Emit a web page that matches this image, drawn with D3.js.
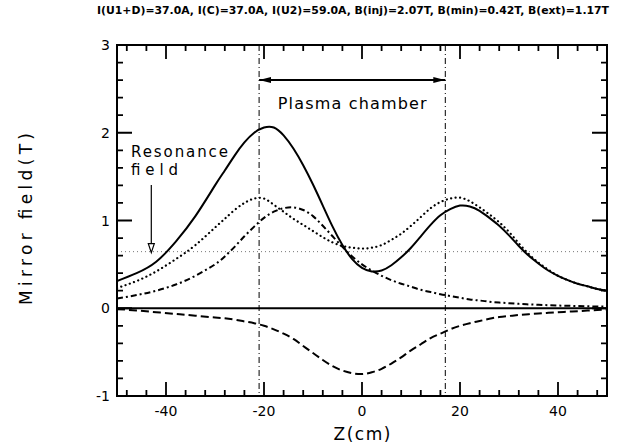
<!DOCTYPE html>
<html>
<head>
<meta charset="utf-8">
<script src="https://cdn.jsdelivr.net/npm/d3@7"></script>
<style>
  body { margin: 0; background: #fff; }
  text { font-family: "DejaVu Sans", "Liberation Sans", Arial, sans-serif; fill: #000; }
</style>
</head>
<body>
<script>
// z positions (cm)
var zPos = [-50, -46, -42, -38, -34, -30, -28, -26, -24, -22, -20, -18, -16, -14, -12, -10, -8, -6, -4, -2,
  0, 2, 4, 6, 8, 10, 12, 14, 16, 18, 20, 22, 24, 26, 28, 30, 32, 34, 36, 38, 40, 42, 44, 46, 48, 50];

// total field (solid)
var totalField = [0.31, 0.40, 0.53, 0.76, 1.05, 1.40, 1.57, 1.74, 1.89, 2.00, 2.06, 2.06, 1.97, 1.82, 1.63, 1.41, 1.17, 0.93, 0.72, 0.56,
  0.46, 0.42, 0.43, 0.49, 0.58, 0.69, 0.82, 0.95, 1.06, 1.13, 1.17, 1.16, 1.11, 1.03, 0.94, 0.83, 0.71, 0.60, 0.51, 0.43, 0.37, 0.32, 0.28, 0.25, 0.22, 0.20];

// dotted curve
var dottedField = [0.23, 0.31, 0.42, 0.56, 0.72, 0.92, 1.02, 1.12, 1.20, 1.25, 1.25, 1.18, 1.10, 1.02, 0.95, 0.88, 0.81, 0.75, 0.71, 0.69,
  0.68, 0.69, 0.72, 0.78, 0.85, 0.94, 1.04, 1.14, 1.21, 1.25, 1.26, 1.22, 1.15, 1.07, 0.98, 0.87, 0.74, 0.62, 0.52, 0.44, 0.37, 0.32, 0.28, 0.25, 0.22, 0.20];

// dash-dot curve
var dashDotField = [0.11, 0.15, 0.20, 0.27, 0.37, 0.50, 0.59, 0.70, 0.82, 0.93, 1.03, 1.10, 1.14, 1.15, 1.12, 1.05, 0.94, 0.82, 0.70, 0.59,
  0.50, 0.43, 0.37, 0.32, 0.28, 0.245, 0.21, 0.185, 0.16, 0.14, 0.12, 0.10, 0.088, 0.075, 0.065, 0.057, 0.05, 0.044, 0.039, 0.035, 0.031, 0.028, 0.025, 0.022, 0.02, 0.018];

// negative dashed curve
var centerField = [-0.01, -0.025, -0.045, -0.065, -0.085, -0.105, -0.115, -0.13, -0.15, -0.17, -0.20, -0.24, -0.29, -0.35, -0.43, -0.51, -0.59, -0.66, -0.71, -0.74,
  -0.75, -0.73, -0.69, -0.63, -0.56, -0.48, -0.41, -0.34, -0.29, -0.24, -0.20, -0.17, -0.145, -0.12, -0.10, -0.088, -0.077, -0.068, -0.06, -0.052, -0.045, -0.039, -0.033, -0.027, -0.021, -0.015];

var chamberEdges = [-21, 17];
var resonanceB = 0.645;
var resonanceZ = -43;

var xMajor = [-40, -20, 0, 20, 40];
var xMinor = d3.range(-48, 50, 4);
var yMajor = [-1, 0, 1, 2, 3];
var yMinor = d3.range(-0.8, 3, 0.2);

var titleText = "I(U1+D)=37.0A, I(C)=37.0A, I(U2)=59.0A, B(inj)=2.07T, B(min)=0.42T, B(ext)=1.17T";

var svgWidth = 617;
var svgHeight = 447;
var margin = { top: 45, bottom: 51, left: 117, right: 10 };
var w = svgWidth - margin.left - margin.right;
var h = svgHeight - margin.top - margin.bottom;

var svg = d3.select("body").append("svg")
  .attr("width", svgWidth)
  .attr("height", svgHeight);

var defs = svg.append("defs");
defs.append("clipPath").attr("id", "plotclip")
  .append("rect").attr("width", w).attr("height", h);
["arrowEnd", "arrowStart"].forEach(function (id, i) {
  defs.append("marker")
    .attr("id", id)
    .attr("viewBox", "0 -4 12 8")
    .attr("refX", i == 0 ? 12 : 0)
    .attr("refY", 0)
    .attr("markerWidth", 12)
    .attr("markerHeight", 8)
    .attr("markerUnits", "userSpaceOnUse")
    .attr("orient", "auto")
    .append("path")
    .attr("d", i == 0 ? "M0,-3L12,0L0,3Z" : "M12,-3L0,0L12,3Z")
    .attr("fill", "#000");
});

var g = svg.append("g").attr("transform", "translate(" + margin.left + "," + margin.top + ")");

var x = d3.scaleLinear().domain([-50, 50]).range([0, w]);
var y = d3.scaleLinear().domain([-1, 3]).range([h, 0]);

// tick labels
g.selectAll(".xlab").data(xMajor).enter().append("text")
  .attr("x", function (d) { return x(d); })
  .attr("y", h + 20)
  .attr("text-anchor", "middle")
  .style("font-size", "14px")
  .text(function (d) { return d; });
g.selectAll(".ylab").data(yMajor).enter().append("text")
  .attr("x", -7)
  .attr("y", function (d) { return y(d) + 5; })
  .attr("text-anchor", "end")
  .style("font-size", "14px")
  .text(function (d) { return d; });

// chamber edges
g.selectAll(".edge").data(chamberEdges).enter().append("line")
  .attr("x1", function (d) { return x(d); })
  .attr("x2", function (d) { return x(d); })
  .attr("y1", 0).attr("y2", h)
  .attr("stroke", "#000").attr("stroke-width", 1)
  .attr("stroke-dasharray", "6,3,1,3");

// resonance level
g.append("line")
  .attr("x1", 0).attr("x2", w)
  .attr("y1", y(resonanceB)).attr("y2", y(resonanceB))
  .attr("stroke", "#777").attr("stroke-width", 1)
  .attr("stroke-dasharray", "1,3");

// zero line
g.append("line")
  .attr("x1", 0).attr("x2", w)
  .attr("y1", y(0)).attr("y2", y(0))
  .attr("stroke", "#000").attr("stroke-width", 2);

var series = [
  { values: centerField, dash: "8,4" },
  { values: dashDotField, dash: "6,3,2,3" },
  { values: dottedField, dash: "0.1,4.4", cap: "round" },
  { values: totalField, dash: null }
];

var line = d3.line()
  .x(function (d) { return x(d[0]); })
  .y(function (d) { return y(d[1]); })
  .curve(d3.curveNatural);

var curves = g.append("g").attr("clip-path", "url(#plotclip)");
series.forEach(function (s) {
  curves.append("path")
    .datum(zPos.map(function (z, i) { return [z, s.values[i]]; }))
    .attr("d", line)
    .attr("fill", "none")
    .attr("stroke", "#000")
    .attr("stroke-width", s.cap ? 2.2 : 2)
    .attr("stroke-linecap", s.cap || "butt")
    .attr("stroke-dasharray", s.dash);
});

// frame
g.append("rect")
  .attr("width", w).attr("height", h)
  .attr("fill", "none").attr("stroke", "#000").attr("stroke-width", 2);

// inward ticks on all four sides
var tickPath = d3.path();
function xTicks(values, len) {
  values.forEach(function (d) {
    tickPath.moveTo(x(d), h); tickPath.lineTo(x(d), h - len);
    tickPath.moveTo(x(d), 0); tickPath.lineTo(x(d), len);
  });
}
function yTicks(values, len) {
  values.forEach(function (d) {
    tickPath.moveTo(0, y(d)); tickPath.lineTo(len, y(d));
    tickPath.moveTo(w, y(d)); tickPath.lineTo(w - len, y(d));
  });
}
xTicks(xMajor, 14);
xTicks(xMinor, 6);
yTicks(yMajor, 15);
yTicks(yMinor, 6);
g.append("path")
  .attr("d", tickPath.toString())
  .attr("fill", "none")
  .attr("stroke", "#000")
  .attr("stroke-width", 1.8);

// plasma chamber arrow
g.append("line")
  .attr("x1", x(chamberEdges[0])).attr("x2", x(chamberEdges[1]))
  .attr("y1", 35).attr("y2", 35)
  .attr("stroke", "#000").attr("stroke-width", 2)
  .attr("marker-start", "url(#arrowStart)")
  .attr("marker-end", "url(#arrowEnd)");
g.append("text")
  .attr("x", x((chamberEdges[0] + chamberEdges[1]) / 2))
  .attr("y", 64)
  .attr("text-anchor", "middle")
  .attr("textLength", 149).attr("lengthAdjust", "spacing")
  .style("font-size", "16px")
  .text("Plasma chamber");

// resonance label and arrow
g.append("text").attr("x", 14).attr("y", 112)
  .attr("textLength", 97).attr("lengthAdjust", "spacing")
  .style("font-size", "15px").text("Resonance");
g.append("text").attr("x", 14).attr("y", 130)
  .attr("textLength", 47).attr("lengthAdjust", "spacing")
  .style("font-size", "15px").text("field");
var ax0 = x(resonanceZ);
var tip = y(resonanceB) + 1;
g.append("line")
  .attr("x1", ax0).attr("x2", ax0)
  .attr("y1", 140).attr("y2", tip - 9)
  .attr("stroke", "#000").attr("stroke-width", 1.2);
g.append("path")
  .attr("d", "M" + (ax0 - 3) + "," + (tip - 9) + "L" + (ax0 + 3) + "," + (tip - 9) + "L" + ax0 + "," + tip + "Z")
  .attr("fill", "#fff").attr("stroke", "#000").attr("stroke-width", 1.2);

// axis titles
svg.append("text")
  .attr("x", margin.left + w / 2)
  .attr("y", 440)
  .attr("text-anchor", "middle")
  .attr("textLength", 57).attr("lengthAdjust", "spacing")
  .style("font-size", "17px")
  .text("Z(cm)");
svg.append("text")
  .attr("transform", "translate(32,219) rotate(-90)")
  .attr("text-anchor", "middle")
  .attr("textLength", 172).attr("lengthAdjust", "spacing")
  .style("font-size", "17px")
  .text("Mirror field(T)");

// top title
svg.append("text")
  .attr("x", 97)
  .attr("y", 14)
  .attr("textLength", 512).attr("lengthAdjust", "spacingAndGlyphs")
  .style("font-size", "10.5px")
  .style("font-weight", "bold")
  .text(titleText);
</script>
</body>
</html>
